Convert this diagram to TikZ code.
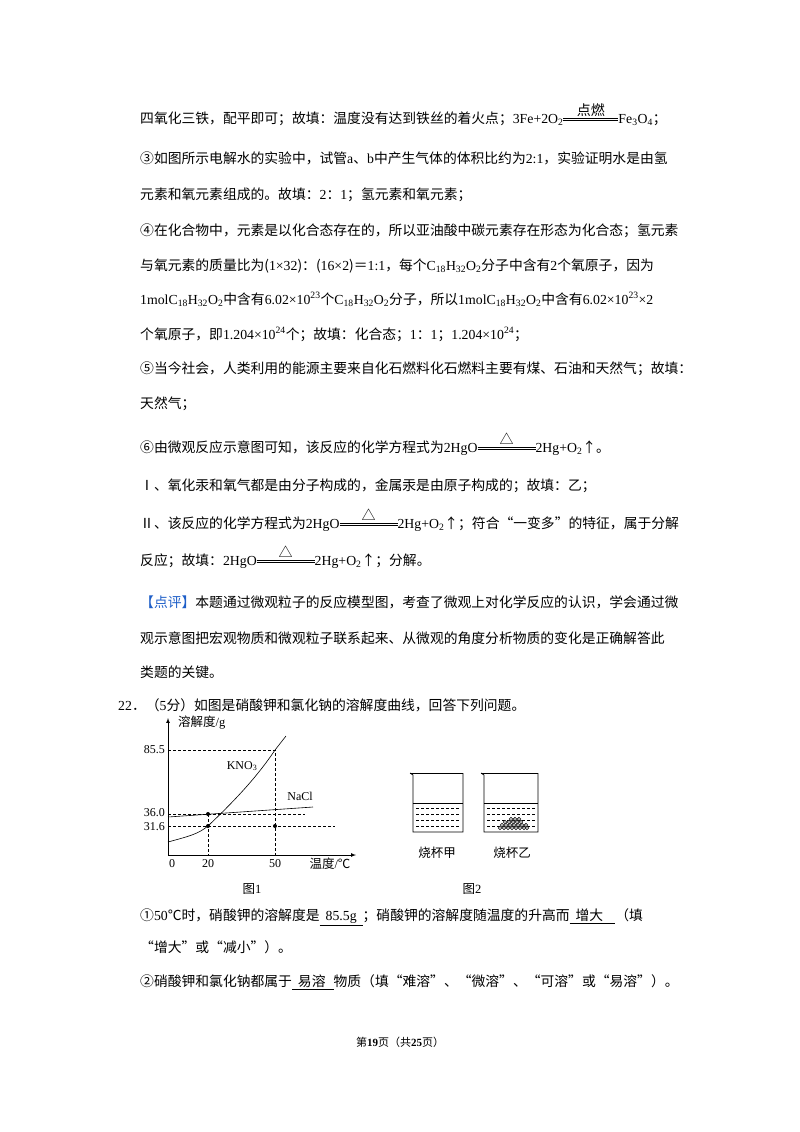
\documentclass[tikz,border=0pt]{standalone}
\usepackage{fontspec}
\usepackage{amsmath}
\setmainfont{Noto Sans CJK SC}
\newfontfamily\lat{Liberation Serif}
\newcommand\rx[2][55pt]{\ensuremath{\mathrel{\overset{\hbox{\fontsize{14}{16}\selectfont #2}}{\vcenter{\hrule width #1 height .5pt\vskip1.6pt\hrule width #1 height .5pt}}}}}
\newcommand\ul[1]{\underline{\hspace{6pt}#1\hspace{6pt}}}
\newcommand\lsub[1]{\textsubscript{#1}}
\begin{document}
\begin{tikzpicture}[x=1pt,y=-1pt,
  ln/.style={anchor=base west,inner sep=0pt,font=\fontsize{13.8}{16}\selectfont},
  dsh/.style={dashed,dash pattern=on 3pt off 2pt,line width=0.6pt},
  dot/.style={circle,fill,inner sep=0pt,minimum size=4pt},
  lab/.style={font=\fontsize{12}{14}\lat\selectfont,inner sep=0pt},
  clab/.style={font=\fontsize{12.5}{14}\selectfont,inner sep=0pt}]
\useasboundingbox[fill=white] (0,0) rectangle (800,1132);
\node[ln] (l1) at (140,123) {四氧化三铁，配平即可；故填：温度没有达到铁丝的着火点；{\lat 3Fe+2O\lsub2}\rx{点燃}{\lat Fe\lsub3O\lsub4}；};
\node[ln] (l2) at (140,163) {③如图所示电解水的实验中，试管{\lat a}、{\lat b}中产生气体的体积比约为{\lat 2:1}，实验证明水是由氢};
\node[ln] (l3) at (140,199) {元素和氧元素组成的。故填：{\lat 2}：{\lat 1}；氢元素和氧元素；};
\node[ln] (l4) at (140,235) {④在化合物中，元素是以化合态存在的，所以亚油酸中碳元素存在形态为化合态；氢元素};
\node[ln] (l5) at (140,270) {与氧元素的质量比为({\lat 1×32})：({\lat 16×2})＝{\lat 1:1}，每个{\lat C\lsub{18}H\lsub{32}O\lsub2}分子中含有{\lat 2}个氧原子，因为};
\node[ln] (l6) at (140,304) {{\lat 1molC\lsub{18}H\lsub{32}O\lsub2}中含有{\lat 6.02×10\textsuperscript{23}}个{\lat C\lsub{18}H\lsub{32}O\lsub2}分子，所以{\lat 1molC\lsub{18}H\lsub{32}O\lsub2}中含有{\lat 6.02×10\textsuperscript{23}×2}};
\node[ln] (l7) at (140,339) {个氧原子，即{\lat 1.204×10\textsuperscript{24}}个；故填：化合态；{\lat 1}：{\lat 1}；{\lat 1.204×10\textsuperscript{24}}；};
\node[ln] (l8) at (140,373) {⑤当今社会，人类利用的能源主要来自化石燃料化石燃料主要有煤、石油和天然气；故填：};
\node[ln] (l9) at (140,408) {天然气；};
\node[ln] (l10) at (140,452) {⑥由微观反应示意图可知，该反应的化学方程式为{\lat 2HgO}\rx[58pt]{△}{\lat 2Hg+O\lsub2}↑。};
\node[ln] (l11) at (140,490) {Ⅰ、氧化汞和氧气都是由分子构成的，金属汞是由原子构成的；故填：乙；};
\node[ln] (l12) at (140,528) {Ⅱ、该反应的化学方程式为{\lat 2HgO}\rx[58pt]{△}{\lat 2Hg+O\lsub2}↑；符合“一变多”的特征，属于分解};
\node[ln] (l13) at (140,565) {反应；故填：{\lat 2HgO}\rx[58pt]{△}{\lat 2Hg+O\lsub2}↑；分解。};
\node[ln] (l14) at (140,607) {{\color[HTML]{1F5FC8}【点评】}本题通过微观粒子的反应模型图，考查了微观上对化学反应的认识，学会通过微};
\node[ln] (l15) at (140,643) {观示意图把宏观物质和微观粒子联系起来、从微观的角度分析物质的变化是正确解答此};
\node[ln] (l16) at (140,677) {类题的关键。};
\node[ln] (l17) at (118,710) {{\lat 22}．（{\lat 5}分）如图是硝酸钾和氯化钠的溶解度曲线，回答下列问题。};
% figure 1
\coordinate (O) at (168,855);
\coordinate (Y) at (168,718);
\coordinate (X) at (356,855);
\draw[line width=0.7pt,-latex] (O) -- (Y);
\draw[line width=0.7pt,-latex] (O) -- (X);
\coordinate (P1) at (275,750);
\coordinate (P2) at (208,814);
\coordinate (P3) at (208,826);
\coordinate (P4) at (275,826);
\draw[dsh] (168,750) -- (P1) -- (275,855);
\draw[dsh] (168,814) -- (305,814);
\draw[dsh] (168,826) -- (335,826);
\draw[dsh] (P2) -- (208,855);
\draw[line width=0.6pt] (168,817) -- (313,807);
\draw[line width=0.6pt] (168,842) .. controls (190,836) and (198,834) .. (P3)
  .. controls (230,805) and (255,780) .. (P1) -- (286,736);
\node[dot] (d1) at (P2) {};
\node[dot] (d2) at (P3) {};
\node[dot] (d3) at (P4) {};
\node[clab,anchor=west] (ylab) at (178,723) {溶解度{\lat /g}};
\node[lab] (kno) at (242,766) {KNO\lsub3};
\node[lab] (nacl) at (300,796) {NaCl};
\node[lab,anchor=east] (y1) at (165,750) {85.5};
\node[lab,anchor=east] (y2) at (165,813) {36.0};
\node[lab,anchor=east] (y3) at (165,827) {31.6};
\node[lab] (x0) at (172,864) {0};
\node[lab] (x1) at (208,864) {20};
\node[lab] (x2) at (275,864) {50};
\node[clab] (xl) at (330,864) {温度{\lat /}℃};
\node[clab] (f1) at (252,889) {图{\lat 1}};
% beakers
\foreach \a/\b in {412/463,483/538}{
  \draw[line width=0.8pt] (\a-2,773) -- (\a+1,775) -- (\a+1,832) -- (\b,832) -- (\b,773);
  \draw[line width=0.8pt] (\a-2,773) -- (\b,773);
  \draw[line width=0.5pt] (\a+1,803.5) -- (\b,803.5);
  \foreach \yy in {808,814,820,826}
    \draw[dsh,line width=0.5pt] (\a+4,\yy) -- (\b-3,\yy);
}
\foreach \cx/\cy in {500/828, 504/828, 508/828, 512/828, 516/828, 520/828, 524/828, 527/828,
  502/825, 506/825, 510/825, 514/825, 518/825, 522/825, 526/825,
  505/822, 509/822, 513/822, 517/822, 521/822, 511/819, 515/819, 519/819}
  \draw[line width=0.4pt,fill=gray!50] (\cx,\cy) circle (1.8pt);
\node[clab] (b1) at (437,853) {烧杯甲};
\node[clab] (b2) at (512,853) {烧杯乙};
\node[clab] (f2) at (472,889) {图{\lat 2}};
% questions
\node[ln] (q1) at (140,920) {①{\lat 50}℃时，硝酸钾的溶解度是\ul{\lat 85.5g}；硝酸钾的溶解度随温度的升高而\ul{增大\hspace{6pt}}（填};
\node[ln] (q2) at (140,952) {“增大”或“减小”）。};
\node[ln] (q3) at (140,986) {②硝酸钾和氯化钠都属于\ul{易溶\hspace{2pt}}物质（填“难溶”、“微溶”、“可溶”或“易溶”）。};
\node[anchor=base,inner sep=0pt,font=\fontsize{11}{13}\selectfont] (ft) at (400,1046) {第{\bfseries\lat 19}页（共{\bfseries\lat 25}页）};
\end{tikzpicture}
\end{document}
